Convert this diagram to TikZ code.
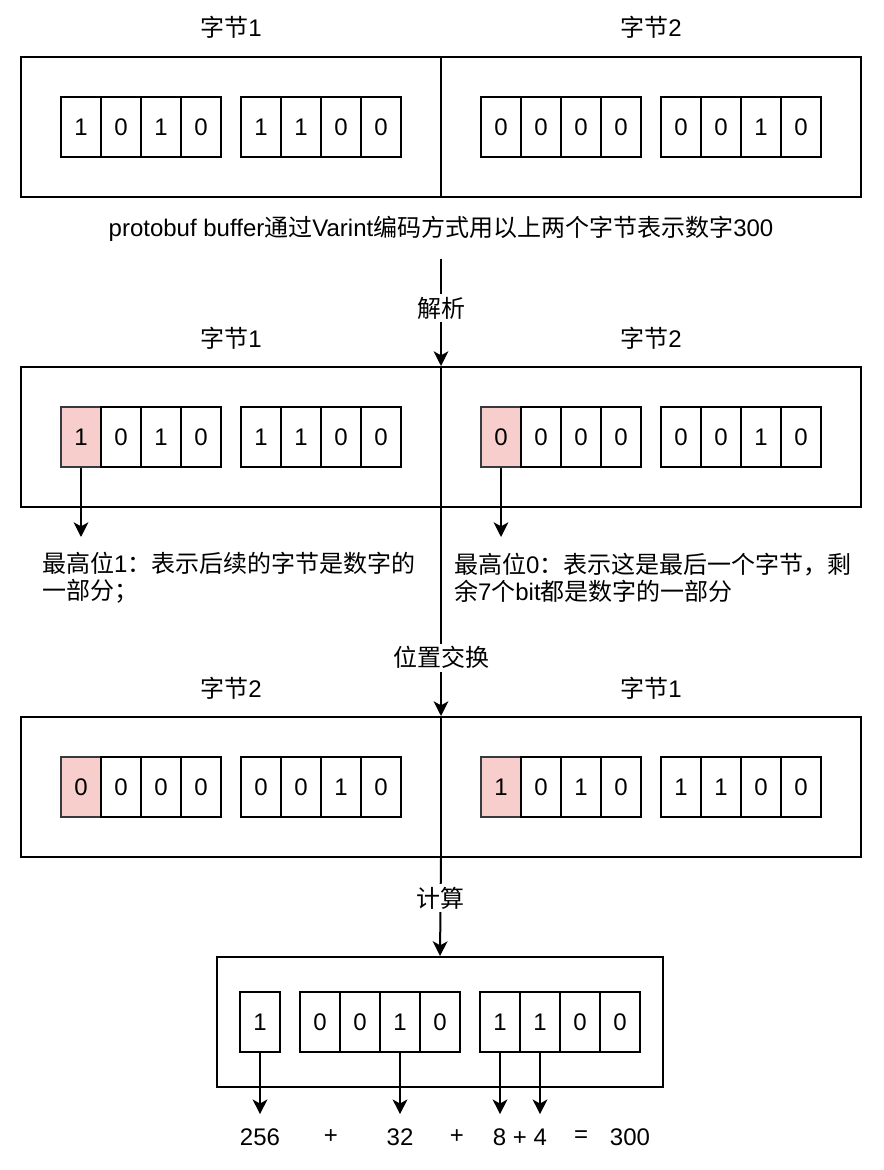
\documentclass[tikz,border=0pt]{standalone}
\usepackage{fontspec}
\setmainfont{Liberation Sans}
\newfontfamily\zh{Noto Sans CJK SC}
\usetikzlibrary{arrows.meta}

\definecolor{hired}{HTML}{F8CECC}
\definecolor{hiline}{HTML}{36393D}

\tikzset{
  bit/.style={draw, minimum width=30pt, minimum height=45pt, inner sep=0pt},
  hibit/.style={bit, fill=hired, draw=hiline},
  byteframe/.style={draw, minimum width=630pt, minimum height=105pt, inner sep=0pt},
  steplabel/.style={fill=white, inner sep=2pt},
  note/.style={anchor=west, align=left, inner sep=0pt},
  sum/.style={inner xsep=0pt, inner ysep=10pt}
}

\begin{document}
\begin{tikzpicture}[x=0.75pt, y=-0.75pt, line width=1.5pt,
    >={Stealth[length=11pt, width=11pt, inset=3pt]},
    font=\fontsize{18}{20.25}\selectfont]
  \useasboundingbox (0,0) rectangle (884,1170);

  %% Stored bytes
  \path (441,127) node(frameA)[byteframe] {};
  \draw (frameA.north) -- (frameA.south);
  \path (231,27) node(headA1) {{\zh 字节}1};
  \path (651,27) node(headA2) {{\zh 字节}2};
  \foreach \x/\b [count=\i] in {81/1,121/0,161/1,201/0,261/1,301/1,341/0,381/0,
      501/0,541/0,581/0,621/0,681/0,721/0,761/1,801/0}
    \path (\x,127) node(a\i)[bit] {\b};
  \path (441,229) node(desc)[inner ysep=12pt]
    {protobuf buffer{\zh 通过}Varint{\zh 编码方式用以上两个字节表示数字}300};

  %% Parsed bytes
  \path (441,437) node(frameB)[byteframe] {};
  \draw (frameB.north) -- (frameB.south);
  \path (231,338) node(headB1) {{\zh 字节}1};
  \path (651,338) node(headB2) {{\zh 字节}2};
  \foreach \x/\b/\s [count=\i] in {81/1/hibit,121/0/bit,161/1/bit,201/0/bit,
      261/1/bit,301/1/bit,341/0/bit,381/0/bit,501/0/hibit,541/0/bit,581/0/bit,
      621/0/bit,681/0/bit,721/0/bit,761/1/bit,801/0/bit}
    \path (\x,437) node(b\i)[\s] {\b};
  % Meaning of the top bit
  \coordinate (tipL) at (81,537);
  \coordinate (tipR) at (501,537);
  \draw[->] (b1.south) -- (tipL);
  \draw[->] (b9.south) -- (tipR);
  \path (41,577.5) node(noteL)[note]
    {{\zh 最高位}1{\zh ：表示后续的字节是数字的}\\{\zh 一部分；}};
  \path (453,577.5) node(noteR)[note]
    {{\zh 最高位}0{\zh ：表示这是最后一个字节，剩}\\{\zh 余}7{\zh 个}bit{\zh 都是数字的一部分}};

  %% Swapped bytes
  \path (441,787) node(frameC)[byteframe] {};
  \draw (frameC.north) -- (frameC.south);
  \path (231,688) node(headC1) {{\zh 字节}2};
  \path (651,688) node(headC2) {{\zh 字节}1};
  \foreach \x/\b/\s [count=\i] in {81/0/hibit,121/0/bit,161/0/bit,201/0/bit,
      261/0/bit,301/0/bit,341/1/bit,381/0/bit,501/1/hibit,541/0/bit,581/1/bit,
      621/0/bit,681/1/bit,721/1/bit,761/0/bit,801/0/bit}
    \path (\x,787) node(c\i)[\s] {\b};

  %% Result
  \path (440,1022) node(frameD)[byteframe, minimum width=334.5pt, minimum height=97.5pt] {};
  \foreach \x/\b [count=\i] in {260/1,320/0,360/0,400/1,440/0,500/1,540/1,580/0,620/0}
    \path (\x,1022) node(d\i)[bit] {\b};
  \path (260,1137) node(sum256)[sum] {256};
  \path (331,1137) node(plusA)[sum] {+};
  \path (400,1137) node(sum32)[sum] {32};
  \path (457,1137) node(plusB)[sum] {+};
  \path (520,1137) node(sum12)[sum] {8 + 4};
  \path (581,1137) node(equal)[sum] {=};
  \path (630,1137) node(total)[sum] {300};
  \draw[->] (d1.south) -- (d1.south |- sum256.north);
  \draw[->] (d4.south) -- (d4.south |- sum32.north);
  \draw[->] (d6.south) -- (d6.south |- sum12.north);
  \draw[->] (d7.south) -- (d7.south |- sum12.north);

  %% Steps
  \draw[->] (desc.south) -- (frameB.north)
    node[pos=0.46, steplabel] {{\zh 解析}};
  \draw[->] (frameB.south) -- (frameC.north)
    node[pos=0.72, steplabel] {{\zh 位置交换}};
  \draw[->] (frameC.south) -- (frameD.north)
    node[pos=0.41, steplabel] {{\zh 计算}};
\end{tikzpicture}
\end{document}
